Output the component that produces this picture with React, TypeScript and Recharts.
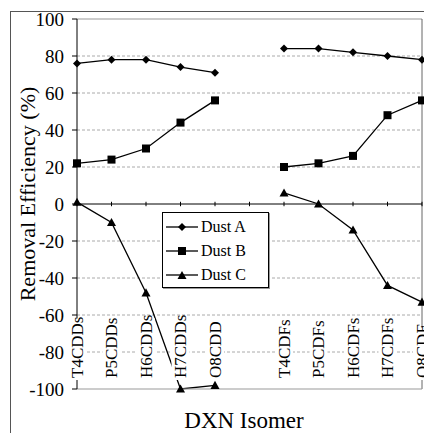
import {
  CartesianGrid,
  Label,
  Legend,
  Line,
  LineChart,
  ReferenceLine,
  XAxis,
  YAxis,
} from 'recharts';

const isomers = [
  'T4CDDs',
  'P5CDDs',
  'H6CDDs',
  'H7CDDs',
  'O8CDD',
  ' ',
  'T4CDFs',
  'P5CDFs',
  'H6CDFs',
  'H7CDFs',
  'O8CDF',
];
const dustA = [76, 78, 78, 74, 71, null, 84, 84, 82, 80, 78];
const dustB = [22, 24, 30, 44, 56, null, 20, 22, 26, 48, 56];
const dustC = [1, -10, -48, -100, -98, null, 6, 0, -14, -44, -53];
const yTicks = [-100, -80, -60, -40, -20, 0, 20, 40, 60, 80, 100];

const data = isomers.map((name, i) => ({
  name,
  a: dustA[i],
  b: dustB[i],
  c: dustC[i],
}));

const FONT = 'Liberation Serif, Tinos, DejaVu Serif, serif';

const diamond = (cx: number, cy: number, r = 4) =>
  `M${cx},${cy - r}L${cx + r},${cy}L${cx},${cy + r}L${cx - r},${cy}Z`;
const triangle = (cx: number, cy: number, r = 4.5) =>
  `M${cx},${cy - r}L${cx + r},${cy + r * 0.8}L${cx - r},${cy + r * 0.8}Z`;

const marker = (kind: string) => (props: any) => {
  const { cx, cy, index, value } = props;
  if (value == null || cx == null || cy == null) return <g key={index} />;
  if (kind === 'square')
    return <rect key={index} x={cx - 4} y={cy - 4} width={8} height={8} fill='#000' />;
  if (kind === 'triangle') return <path key={index} d={triangle(cx, cy)} fill='#000' />;
  return <path key={index} d={diamond(cx, cy)} fill='#000' />;
};

function IsomerTick(props: any) {
  const { x, y, payload } = props;
  const label = String(payload.value).trim();
  if (!label) return null;
  const len = label.length * 9.6;
  return (
    <g transform={`translate(${x},${y - 11}) rotate(-90)`}>
      <rect x={-2} y={-9} width={len + 4} height={18} fill='#fff' />
      <text
        x={0}
        y={0}
        textAnchor='start'
        dominantBaseline='central'
        fontSize={17}
        style={{ fontFamily: FONT }}
        fill='#000'
      >
        {label}
      </text>
    </g>
  );
}

const series = [
  { key: 'a', name: 'Dust A', kind: 'diamond' },
  { key: 'b', name: 'Dust B', kind: 'square' },
  { key: 'c', name: 'Dust C', kind: 'triangle' },
];

function LegendBox() {
  return (
    <div
      style={{
        border: '1px solid #000',
        background: '#fff',
        boxShadow: '1px 1px 0 #999',
        padding: '2px 0 0 2px',
        fontFamily: FONT,
        fontSize: 16,
        lineHeight: '24px',
      }}
    >
      {series.map((s) => (
        <div key={s.key} style={{ display: 'flex', alignItems: 'center' }}>
          <svg width={36} height={12}>
            <line x1={1} x2={33} y1={6} y2={6} stroke='#000' strokeWidth={1.3} />
            {s.kind === 'square' && <rect x={13} y={2} width={8} height={8} fill='#000' />}
            {s.kind === 'diamond' && <path d={diamond(17, 6)} fill='#000' />}
            {s.kind === 'triangle' && <path d={triangle(17, 6.5)} fill='#000' />}
          </svg>
          <span>{s.name}</span>
        </div>
      ))}
    </div>
  );
}

export default function App() {
  return (
    <div
      style={{
        position: 'fixed',
        left: 0,
        top: 0,
        width: 424,
        height: 433,
        overflow: 'hidden',
        background: '#fff',
        fontFamily: FONT,
      }}
    >
      <div
        style={{
          position: 'absolute',
          left: 10,
          top: 11,
          width: 440,
          height: 440,
          border: '1px solid #555',
        }}
      />
      <div style={{ position: 'absolute', left: 0, top: 0 }}>
        <LineChart
          width={440}
          height={433}
          data={data}
          margin={{ top: 19, right: 18, bottom: 0, left: 0 }}
          style={{ fontFamily: FONT }}
        >
          <CartesianGrid
            vertical={false}
            horizontalValues={[-80, -60, -40, -20, 20, 40, 60, 80]}
            stroke='#aaa'
            strokeDasharray='3 2'
          />
          <ReferenceLine y={100} stroke='#999' />
          <ReferenceLine x='O8CDF' stroke='#666' />
          <ReferenceLine y={0} stroke='#000' />
          {isomers.map((cat) => (
            <ReferenceLine
              key={'t' + cat}
              segment={[
                { x: cat, y: -1.2 },
                { x: cat, y: 1.2 },
              ]}
              stroke='#000'
            />
          ))}
          <XAxis
            dataKey='name'
            height={44}
            tickLine={false}
            tickSize={0}
            tickMargin={0}
            interval={0}
            axisLine={{ stroke: '#999' }}
            tick={<IsomerTick />}
          >
            <Label
              content={() => (
                <text
                  x={244}
                  y={428}
                  textAnchor='middle'
                  fontSize={23}
                  style={{ fontFamily: FONT }}
                  fill='#000'
                >
                  DXN Isomer
                </text>
              )}
            />
          </XAxis>
          <YAxis
            type='number'
            domain={[-100, 100]}
            ticks={yTicks}
            width={77}
            tickSize={5}
            tickMargin={8}
            axisLine={{ stroke: '#000' }}
            tickLine={{ stroke: '#000' }}
            tick={{ fontSize: 19, fill: '#000', style: { fontFamily: FONT } }}
          >
            <Label
              content={() => (
                <text
                  x={27}
                  y={194}
                  transform='rotate(-90 27 194)'
                  textAnchor='middle'
                  dominantBaseline='central'
                  fontSize={22}
                  style={{ fontFamily: FONT }}
                  fill='#000'
                >
                  Removal Efficiency (%)
                </text>
              )}
            />
          </YAxis>
          <Legend
            layout='vertical'
            align='center'
            verticalAlign='middle'
            content={<LegendBox />}
            wrapperStyle={{ left: 162, top: 212, width: 107 }}
          />
          {series.map((s) => (
            <Line
              key={s.key}
              dataKey={s.key}
              name={s.name}
              stroke='#000'
              strokeWidth={1.3}
              dot={marker(s.kind)}
              activeDot={false}
              isAnimationActive={false}
            />
          ))}
        </LineChart>
      </div>
    </div>
  );
}
